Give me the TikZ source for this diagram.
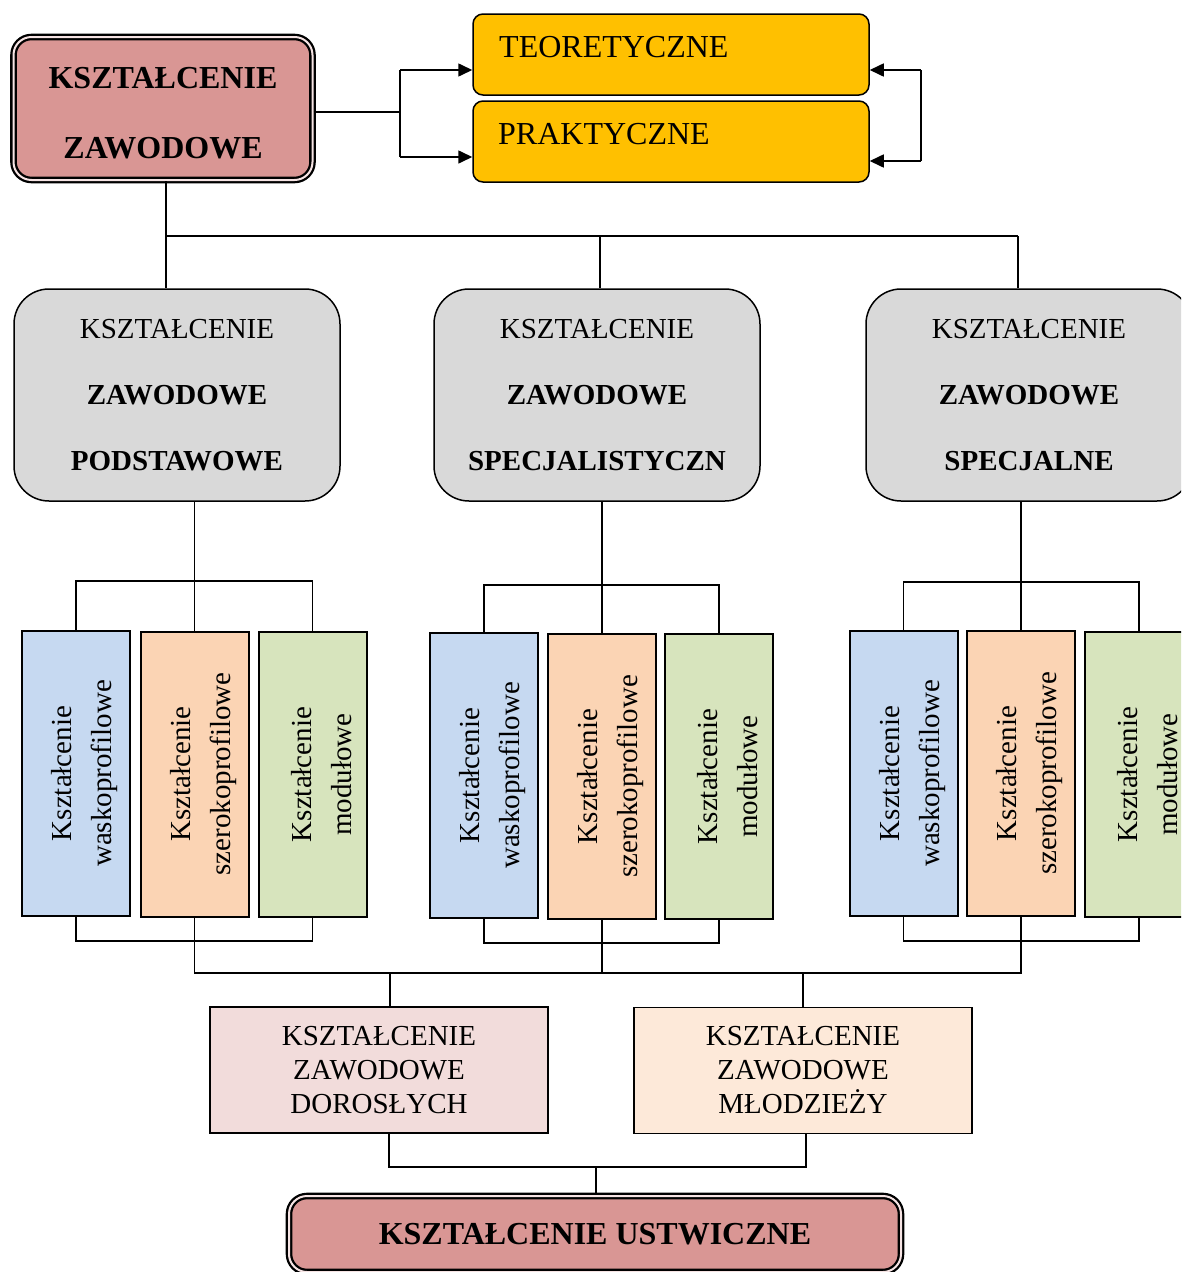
\documentclass[tikz,border=0pt]{standalone}
\usepackage{fontspec}
\setmainfont{Liberation Serif}
\usetikzlibrary{arrows.meta}
\definecolor{mainred}{HTML}{D99694}
\definecolor{gapc}{HTML}{F6E4E4}
\definecolor{yel}{HTML}{FFC000}
\definecolor{grayb}{HTML}{D9D9D9}
\definecolor{blueb}{HTML}{C6D9F1}
\definecolor{orangeb}{HTML}{FBD4B4}
\definecolor{greenb}{HTML}{D7E4BD}
\definecolor{dorb}{HTML}{F2DCDB}
\definecolor{mlob}{HTML}{FDE9D9}
\begin{document}
\begin{tikzpicture}[x=1pt,y=-1pt,
 conn/.style={draw=black, line width=1.6pt},
 arr/.style={conn, -{Triangle[length=14pt,width=13pt]}},
 mainbox/.style={draw=black, line width=2.3pt, double=gapc, double distance=2pt, fill=mainred, rounded corners=18pt, inner sep=0pt, align=center, font=\fontsize{32}{70}\selectfont\bfseries},
 ybox/.style={draw=black, line width=1.5pt, fill=yel, rounded corners=10pt, minimum width=396pt, minimum height=81pt, inner sep=0pt},
 ytext/.style={anchor=base west, inner sep=0pt, font=\fontsize{32}{38}\selectfont},
 gbox/.style={draw=black, line width=1.5pt, fill=grayb, rounded corners=35pt, minimum width=326pt, minimum height=212pt, inner sep=0pt, align=center, font=\fontsize{29}{66}\selectfont},
 sbox/.style={draw=black, line width=2pt, minimum width=108pt, minimum height=285pt, inner sep=0pt},
 vtext/.style={xshift=9pt, rotate=90, align=center, inner sep=0pt, font=\fontsize{29}{40}\selectfont},
 bbox/.style={draw=black, line width=1.8pt, minimum width=338pt, minimum height=126pt, inner sep=0pt, align=center, font=\fontsize{29}{34}\selectfont}
]
\useasboundingbox (0,0) rectangle (1181,1272);
\clip (0,0) rectangle (1181,1272);

% top
\node[mainbox, minimum width=299pt, minimum height=143pt] (main) at (163,108.5) {\rule{0pt}{31pt}KSZTAŁCENIE\\ZAWODOWE};
\node[ybox] (teo) at (671,54.5) {};
\node[ytext] (teot) at (499,57) {TEORETYCZNE};
\node[ybox] (prak) at (671,141.5) {};
\node[ytext] (prakt) at (498,144) {PRAKTYCZNE};

% gray boxes
\node[gbox] (g1) at (177,395) {KSZTAŁCENIE\\\textbf{ZAWODOWE}\\\textbf{PODSTAWOWE}};
\node[gbox, minimum height=212pt] (g2) at (597,395) {KSZTAŁCENIE\\\textbf{ZAWODOWE}\\\textbf{SPECJALISTYCZN}};
\node[gbox] (g3) at (1029,395) {KSZTAŁCENIE\\\textbf{ZAWODOWE}\\\textbf{SPECJALNE}};

% sub boxes
\node[sbox, fill=blueb] (bl1) at (76,773.5) {};
\node[sbox, fill=orangeb] (or1) at (194.5,774) {};
\node[sbox, fill=greenb] (gr1) at (312.5,774.5) {};
\node[sbox, fill=blueb] (bl2) at (484,775.5) {};
\node[sbox, fill=orangeb] (or2) at (602,776.5) {};
\node[sbox, fill=greenb] (gr2) at (719,776.5) {};
\node[sbox, fill=blueb] (bl3) at (903.5,773.5) {};
\node[sbox, fill=orangeb] (or3) at (1021,773.5) {};
\node[sbox, fill=greenb] (gr3) at (1139,774.5) {};

\node[vtext] (bl1t) at (bl1) {Kształcenie\\waskoprofilowe};
\node[vtext] (or1t) at (or1) {Kształcenie\\szerokoprofilowe};
\node[vtext] (gr1t) at (gr1) {Kształcenie\\modułowe};
\node[vtext] (bl2t) at (bl2) {Kształcenie\\waskoprofilowe};
\node[vtext] (or2t) at (or2) {Kształcenie\\szerokoprofilowe};
\node[vtext] (gr2t) at (gr2) {Kształcenie\\modułowe};
\node[vtext] (bl3t) at (bl3) {Kształcenie\\waskoprofilowe};
\node[vtext] (or3t) at (or3) {Kształcenie\\szerokoprofilowe};
\node[vtext] (gr3t) at (gr3) {Kształcenie\\modułowe};

% bottom boxes
\node[bbox, fill=dorb] (dor) at (379,1070) {KSZTAŁCENIE\\ZAWODOWE\\DOROSŁYCH};
\node[bbox, fill=mlob] (mlo) at (803,1070.5) {KSZTAŁCENIE\\ZAWODOWE\\MŁODZIEŻY};
\node[mainbox, minimum width=612pt, minimum height=76pt, font=\fontsize{32}{38}\selectfont\bfseries] (ust) at (595,1234) {KSZTAŁCENIE USTWICZNE};

% connectors: top
\coordinate (j1) at (400,112);
\coordinate (ta) at (400,70);
\coordinate (pa) at (400,157);
\draw[conn] (main.east |- j1) -- (j1);
\draw[conn] (ta) -- (pa);
\draw[arr] (ta) -- (ta -| teo.west);
\draw[arr] (pa) -- (pa -| prak.west);
\coordinate (tr) at (921,70);
\coordinate (pr) at (921,161);
\draw[conn] (tr) -- (pr);
\draw[arr] (tr) -- (tr -| teo.east);
\draw[arr] (pr) -- (pr -| prak.east);

% trunk
\coordinate (b1) at (166,236);
\coordinate (b2) at (600,236);
\coordinate (b3) at (1018,236);
\draw[conn] (main.south -| b1) -- (b1) -- (b3);
\draw[conn] (b1) -- (b1 |- g1.north);
\draw[conn] (b2) -- (b2 |- g2.north);
\draw[conn] (b3) -- (b3 |- g3.north);

% gray to sub groups
\coordinate (h1) at (0,581);
\coordinate (h2) at (0,585);
\coordinate (h3) at (0,582);
\draw[conn] (or1.north |- g1.south) -- (or1.north);
\draw[conn] (bl1.north) -- (bl1.north |- h1) -- (gr1.north |- h1) -- (gr1.north);
\draw[conn] (or2.north |- g2.south) -- (or2.north);
\draw[conn] (bl2.north) -- (bl2.north |- h2) -- (gr2.north |- h2) -- (gr2.north);
\draw[conn] (or3.north |- g3.south) -- (or3.north);
\draw[conn] (bl3.north) -- (bl3.north |- h3) -- (gr3.north |- h3) -- (gr3.north);

% sub groups to bottom
\coordinate (l1) at (0,941);
\coordinate (l2) at (0,943);
\coordinate (l3) at (0,941);
\coordinate (lm) at (0,973);
\draw[conn] (bl1.south) -- (bl1.south |- l1) -- (gr1.south |- l1) -- (gr1.south);
\draw[conn] (bl2.south) -- (bl2.south |- l2) -- (gr2.south |- l2) -- (gr2.south);
\draw[conn] (bl3.south) -- (bl3.south |- l3) -- (gr3.south |- l3) -- (gr3.south);
\draw[conn] (or1.south) -- (or1.south |- lm) -- (or3.south |- lm) -- (or3.south);
\draw[conn] (or2.south) -- (or2.south |- lm);
\coordinate (k1) at (390,973);
\coordinate (k2) at (803,973);
\draw[conn] (k1) -- (k1 |- dor.north);
\draw[conn] (k2) -- (k2 |- mlo.north);
\coordinate (m1) at (389,1167);
\coordinate (m2) at (806,1167);
\coordinate (m3) at (596,1167);
\draw[conn] (m1 |- dor.south) -- (m1) -- (m2) -- (m2 |- mlo.south);
\draw[conn] (m3) -- (m3 |- ust.north);
\end{tikzpicture}
\end{document}
